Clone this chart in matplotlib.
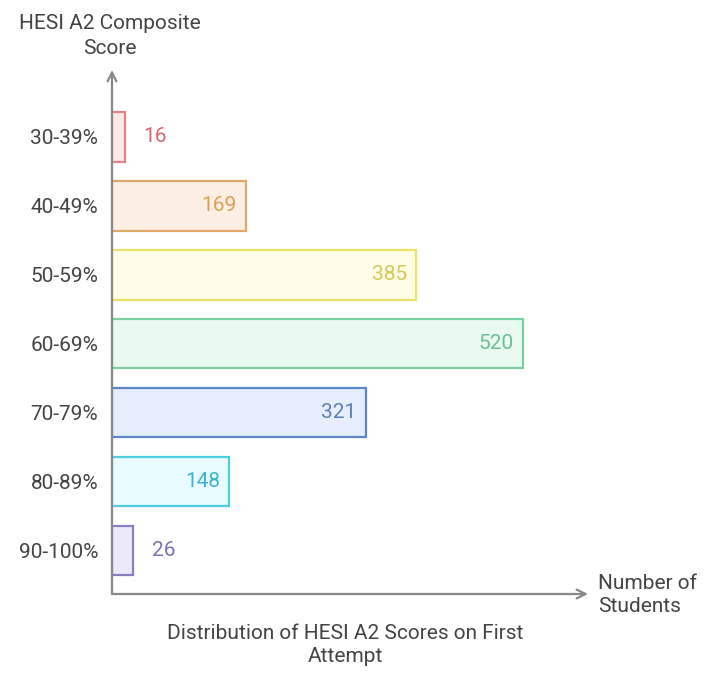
import matplotlib
matplotlib.use("Agg")
import matplotlib.pyplot as plt

categories = ["30-39%", "40-49%", "50-59%", "60-69%", "70-79%", "80-89%", "90-100%"]
values = [16, 169, 385, 520, 321, 148, 26]
edge_colors = ["#e08585", "#e0a86a", "#ece468", "#78cfa0", "#5b86c8", "#4dcde0", "#8a7ec4"]
fill_colors = ["#fde8e8", "#fdeee3", "#fffde6", "#e9faf1", "#e6edfc", "#e8fbfe", "#ece9fa"]
text_colors = ["#d9666b", "#d8a050", "#d6c85a", "#6cc09a", "#5a7fb8", "#3bb5cf", "#7d6fb8"]
y_title = "HESI A2 Composite\nScore"
x_title = "Number of\nStudents"
caption = "Distribution of HESI A2 Scores on First\nAttempt"

plt.rcParams['font.family'] = ['Roboto', 'DejaVu Sans']
W, H = 720, 682
fig = plt.figure(figsize=(W / 100, H / 100), dpi=100)
x0, x1, ytop, ybot = 112, 588, 70, 594
ax = fig.add_axes([x0 / W, (H - ybot) / H, (x1 - x0) / W, (ybot - ytop) / H])
ax.set_xlim(0, (x1 - x0) / 0.79)
ax.set_ylim(6.633, -0.972)

FS = 15
pos = list(range(len(categories)))
ax.barh(pos, values, height=0.72, color=fill_colors, edgecolor=edge_colors, linewidth=1.6, zorder=2)

for i, v in enumerate(values):
    if v < 60:
        ax.annotate(str(v), xy=(v, i), xytext=(19, 0), textcoords="offset pixels",
                    ha="left", va="center", fontsize=FS, color=text_colors[i])
    else:
        ax.annotate(str(v), xy=(v, i), xytext=(-9, 0), textcoords="offset pixels",
                    ha="right", va="center", fontsize=FS, color=text_colors[i])

ax.set_yticks(pos)
ax.set_yticklabels(categories, fontsize=FS, color="#444444")
ax.tick_params(axis="y", length=0, pad=10)
ax.set_xticks([])
for s in ax.spines.values():
    s.set_visible(False)

ax.annotate("", xy=(1, 0), xytext=(0, 0), xycoords="axes fraction",
            arrowprops=dict(arrowstyle="->", color="#888888", lw=1.6, mutation_scale=16,
                            shrinkA=0, shrinkB=0))
ax.annotate("", xy=(0, 1), xytext=(0, 0), xycoords="axes fraction",
            arrowprops=dict(arrowstyle="->", color="#888888", lw=1.6, mutation_scale=16,
                            shrinkA=0, shrinkB=0))

fig.text(110 / W, 1 - 36 / H, y_title, ha="center", va="center", fontsize=FS,
         color="#444444", linespacing=1.4)
fig.text(598 / W, 1 - 595 / H, x_title, ha="left", va="center", fontsize=FS,
         color="#444444", linespacing=1.3)
fig.text(345 / W, 1 - 645 / H, caption, ha="center", va="center", fontsize=FS,
         color="#444444", linespacing=1.3)

fig.savefig("out.png", dpi=100, facecolor="white")
